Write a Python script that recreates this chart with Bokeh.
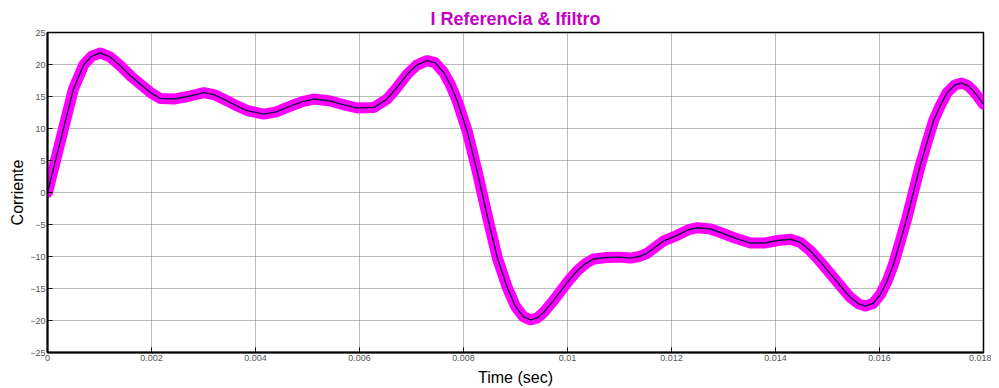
from bokeh.plotting import figure
from bokeh.models import FixedTicker, Range1d
from bokeh.embed import file_html
from bokeh.resources import INLINE

# Time (s)
t = [0.0, 0.00025, 0.0005, 0.0007, 0.00085, 0.00102, 0.0012, 0.0014, 0.0016, 0.00179,
     0.002, 0.00217, 0.00243, 0.0027, 0.00301, 0.0032, 0.00346, 0.00365, 0.00384, 0.00416,
     0.0044, 0.00461, 0.0049, 0.00512, 0.00544, 0.0057, 0.00596, 0.00628, 0.00653, 0.0067,
     0.00692, 0.0071, 0.0073, 0.00745, 0.00762, 0.00775, 0.00788, 0.00807, 0.00826, 0.00845,
     0.00865, 0.00884, 0.009, 0.00915, 0.00929, 0.00942, 0.00954, 0.0097, 0.00987, 0.01003,
     0.01019, 0.01035, 0.0105, 0.01076, 0.011, 0.01121, 0.01138, 0.01153, 0.01185, 0.01208,
     0.01233, 0.0125, 0.01275, 0.01294, 0.01325, 0.01352, 0.01378, 0.01405, 0.01429, 0.01448,
     0.01467, 0.01486, 0.01506, 0.01525, 0.01544, 0.0156, 0.01573, 0.01588, 0.01602, 0.01615,
     0.01627, 0.0164, 0.01653, 0.01666, 0.01679, 0.01692, 0.01704, 0.01717, 0.0173, 0.01745,
     0.01758, 0.0177, 0.0178, 0.0179, 0.018]

# I Referencia (black line)
i_ref = [0.0, 8.1, 16.2, 20.0, 21.3, 21.8, 21.2, 19.8, 18.2, 16.9,
         15.5, 14.7, 14.6, 15.0, 15.6, 15.3, 14.3, 13.5, 12.8, 12.25,
         12.6, 13.3, 14.2, 14.6, 14.3, 13.7, 13.2, 13.3, 14.6, 16.2,
         18.5, 19.9, 20.6, 20.3, 18.75, 16.8, 14.3, 9.6, 3.4, -3.4,
         -10.2, -14.8, -17.8, -19.4, -19.9, -19.6, -18.75, -17.2, -15.4, -13.7,
         -12.2, -11.1, -10.4, -10.15, -10.1, -10.25, -10.0, -9.5, -7.55, -6.8,
         -5.8, -5.5, -5.7, -6.25, -7.2, -7.9, -7.9, -7.5, -7.3, -7.8,
         -9.1, -10.8, -12.75, -14.6, -16.4, -17.4, -17.75, -17.3, -15.9, -13.8,
         -11.2, -7.6, -3.9, 0.3, 4.4, 8.0, 11.2, 13.6, 15.6, 16.8,
         17.1, 16.7, 15.9, 14.9, 13.8]

# Ifiltro (magenta, follows the reference with switching ripple)
i_filtro = list(i_ref)

x_ticks = [0, 0.002, 0.004, 0.006, 0.008, 0.01, 0.012, 0.014, 0.016, 0.018]
x_tick_labels = ["0", "0.002", "0.004", "0.006", "0.008", "0.01", "0.012", "0.014", "0.016", "0.018"]
y_ticks = [-25, -20, -15, -10, -5, 0, 5, 10, 15, 20, 25]

p = figure(width=991, height=388, output_backend="svg", toolbar_location=None,
           x_range=Range1d(0, 0.018), y_range=Range1d(-25, 25),
           min_border_left=47, min_border_right=8, min_border_top=32, min_border_bottom=36)

p.title.text = "I Referencia & Ifiltro"
p.title.align = "center"
p.title.text_font = "Liberation Sans"
p.title.text_font_size = "18px"
p.title.text_font_style = "bold"
p.title.text_color = "#c400c4"
p.title.offset = 0
p.title.standoff = 8

p.line(t, i_filtro, line_color="#ff00ff", line_width=11, line_join="round", line_cap="round")
p.line(t, i_ref, line_color="#15154a", line_width=1.4)

p.xaxis.ticker = FixedTicker(ticks=x_ticks)
p.xaxis.major_label_overrides = {tk: lb for tk, lb in zip(x_ticks, x_tick_labels)}
p.yaxis.ticker = FixedTicker(ticks=y_ticks)
p.xaxis.minor_tick_line_color = None
p.yaxis.minor_tick_line_color = None

for ax in (p.xaxis, p.yaxis):
    ax.axis_line_color = "black"
    ax.axis_line_width = 2
    ax.major_tick_line_color = "black"
    ax.major_tick_in = 5
    ax.major_tick_out = 0
    ax.major_label_text_font = "Liberation Sans"
    ax.major_label_text_font_size = "9px"
    ax.major_label_text_color = "#555555"
    ax.major_label_standoff = 2
    ax.axis_label_text_font = "Liberation Sans"
    ax.axis_label_text_font_size = "16px"
    ax.axis_label_text_font_style = "normal"
    ax.axis_label_text_color = "black"

p.xaxis.axis_label = "Time (sec)"
p.yaxis.axis_label = "Corriente"
p.xaxis.axis_label_standoff = 5
p.yaxis.axis_label_standoff = 1

p.xgrid.grid_line_color = "#777777"
p.ygrid.grid_line_color = "#777777"
p.xgrid.grid_line_dash = "1 1"
p.ygrid.grid_line_dash = "1 1"
p.xgrid.ticker = FixedTicker(ticks=x_ticks)
p.ygrid.ticker = FixedTicker(ticks=y_ticks)

p.outline_line_color = "black"
p.outline_line_width = 1.5
p.background_fill_color = "white"
p.border_fill_color = "white"

open("out.html", "w").write(file_html(p, INLINE))
